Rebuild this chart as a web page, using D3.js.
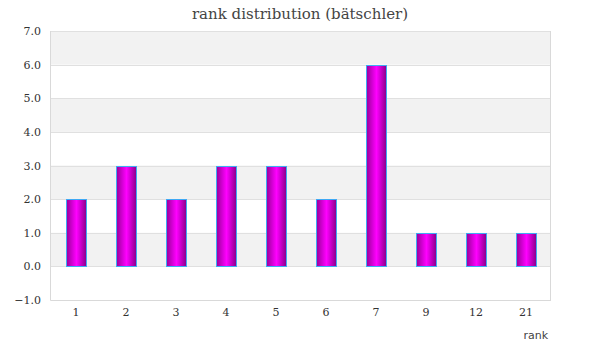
<!DOCTYPE html>
<html><head><meta charset="utf-8">
<script src="https://cdn.jsdelivr.net/npm/d3@7"></script>
<style>body{margin:0;background:#fff}</style>
</head><body>
<svg id="c" width="600" height="360"></svg>
<script>
const categories = ["1","2","3","4","5","6","7","9","12","21"];
const values = [2,3,2,3,3,2,6,1,1,1];
const yTicks = [-1,0,1,2,3,4,5,6,7];
const title = "rank distribution (bätschler)";
const xTitle = "rank";

const svg = d3.select("#c");
const L = 51, R = 551, T = 31, B = 300;
const x = d3.scaleBand().domain(categories).range([L, R]);
const y = d3.scaleLinear().domain([-1, 7]).range([B, T]);

const defs = svg.append("defs");
const g = defs.append("linearGradient").attr("id","bg").attr("x1","0").attr("x2","1").attr("y1","0").attr("y2","0");
g.append("stop").attr("offset","0%").attr("stop-color","#990099");
g.append("stop").attr("offset","50%").attr("stop-color","#ff00ff");
g.append("stop").attr("offset","100%").attr("stop-color","#880088");

// bands
for (let i = 0; i < yTicks.length - 1; i++) {
  const lo = yTicks[i], hi = yTicks[i+1];
  if (((lo % 2) + 2) % 2 === 0) {
    svg.append("rect").attr("x", L).attr("width", R - L)
      .attr("y", y(hi)).attr("height", y(lo) - y(hi)).attr("fill", "#f2f2f2");
  }
}
// grid
svg.append("g").selectAll("line").data(yTicks).join("line")
  .attr("x1", L).attr("x2", R).attr("y1", d => Math.round(y(d)) + 0.5).attr("y2", d => Math.round(y(d)) + 0.5)
  .attr("stroke", "#e0e0e0");
// border left/bottom/right
svg.append("line").attr("x1", L - 0.5).attr("x2", L - 0.5).attr("y1", T).attr("y2", B + 0.5).attr("stroke", "#d9d9d9");
svg.append("line").attr("x1", R - 0.5).attr("x2", R - 0.5).attr("y1", T).attr("y2", B + 0.5).attr("stroke", "#d9d9d9");
svg.append("line").attr("x1", L - 0.5).attr("x2", R).attr("y1", B + 0.5).attr("y2", B + 0.5).attr("stroke", "#d9d9d9");

// bars
const bw = 20;
svg.append("g").selectAll("rect").data(values).join("rect")
  .attr("x", (d, i) => Math.round(x(categories[i]) + x.bandwidth()/2 - bw/2) + 0.5)
  .attr("width", bw)
  .attr("y", d => Math.round(y(d)) + 0.5)
  .attr("height", d => Math.round(y(0)) - Math.round(y(d)))
  .attr("fill", "url(#bg)").attr("stroke", "#3fa9f5").attr("stroke-width", 1);

// y axis labels
const yAxis = d3.axisLeft(y).tickValues(yTicks).tickFormat(d3.format(".1f")).tickSize(0).tickPadding(10);
const ya = svg.append("g").attr("transform", `translate(${L},0)`).call(yAxis);
ya.select(".domain").remove();
ya.selectAll("text").attr("font-family", "DejaVu Serif, serif").attr("font-size", 11).attr("fill", "#333");

// x axis labels
const xAxis = d3.axisBottom(x).tickSize(0).tickPadding(8);
const xa = svg.append("g").attr("transform", `translate(0,${B})`).call(xAxis);
xa.select(".domain").remove();
xa.selectAll("text").attr("font-family", "DejaVu Serif, serif").attr("font-size", 11).attr("fill", "#333");

svg.append("text").attr("x", 548).attr("y", 339).attr("text-anchor", "end")
  .attr("font-family", "DejaVu Sans, sans-serif").attr("font-size", 11).attr("fill", "#444").text(xTitle);

svg.append("text").attr("x", 300).attr("y", 19).attr("text-anchor", "middle")
  .attr("font-family", "DejaVu Serif, serif").attr("font-size", 15).attr("fill", "#444").text(title);
</script>
</body></html>
